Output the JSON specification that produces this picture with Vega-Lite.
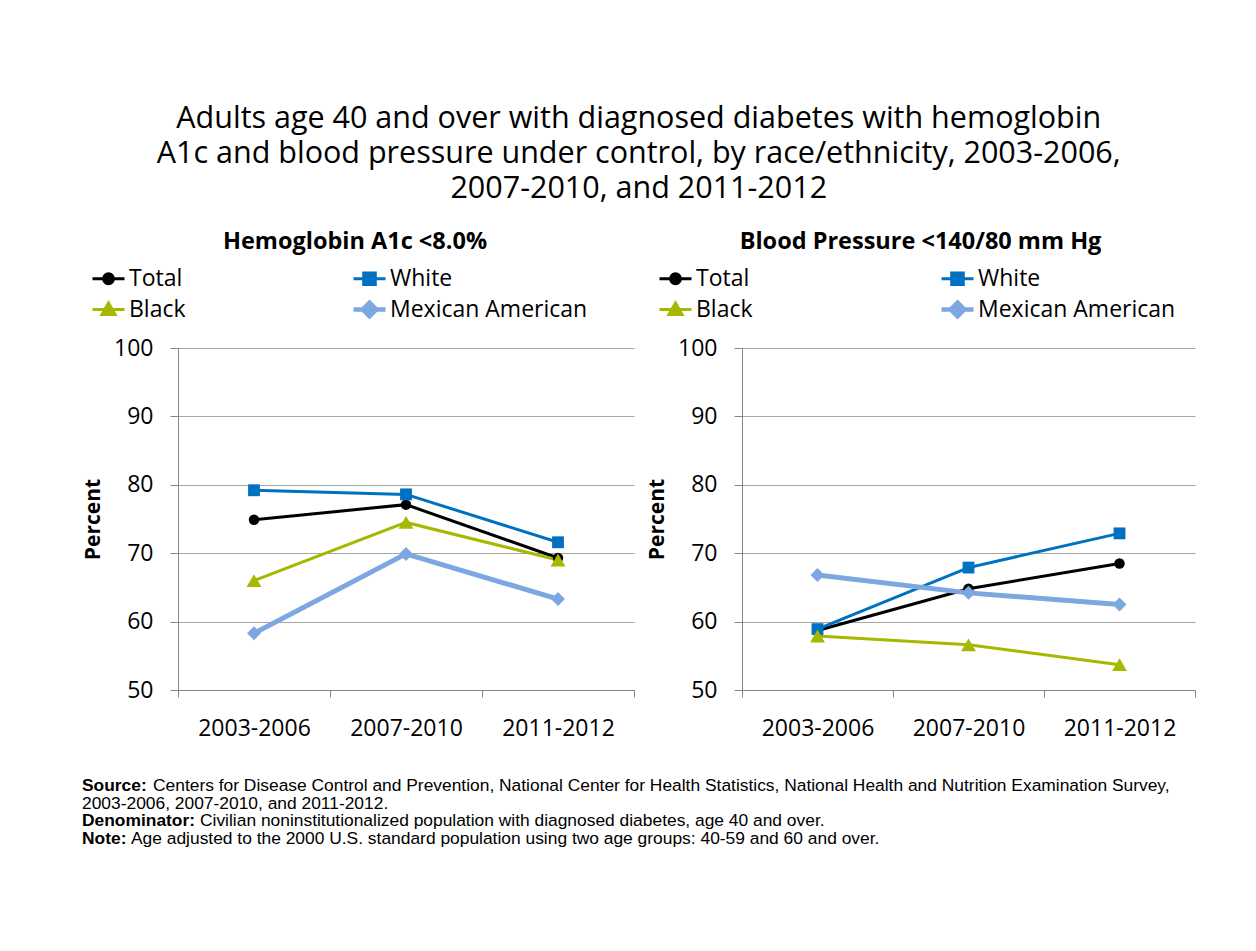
{
  "$schema": "https://vega.github.io/schema/vega-lite/v6.json",
  "background": "white",
  "padding": {"left": 82, "top": 104, "right": 5, "bottom": 5},
  "title": {
    "text": ["Adults age 40 and over with diagnosed diabetes with hemoglobin", "A1c and blood pressure under control, by race/ethnicity, 2003-2006,", "2007-2010, and 2011-2012"],
    "font": "Open Sans", "fontSize": 30.5, "fontWeight": "normal", "lineHeight": 35, "anchor": "middle", "offset": 25, "color": "black"
  },
  "datasets": {
    "a1c": [
      {"group": "Total", "period": "2003-2006", "percent": 74.9},
      {"group": "Total", "period": "2007-2010", "percent": 77.1},
      {"group": "Total", "period": "2011-2012", "percent": 69.3},
      {"group": "White", "period": "2003-2006", "percent": 79.2},
      {"group": "White", "period": "2007-2010", "percent": 78.6},
      {"group": "White", "period": "2011-2012", "percent": 71.6},
      {"group": "Black", "period": "2003-2006", "percent": 66.0},
      {"group": "Black", "period": "2007-2010", "percent": 74.5},
      {"group": "Black", "period": "2011-2012", "percent": 69.0},
      {"group": "Mexican American", "period": "2003-2006", "percent": 58.3},
      {"group": "Mexican American", "period": "2007-2010", "percent": 69.9},
      {"group": "Mexican American", "period": "2011-2012", "percent": 63.3}
    ],
    "bp": [
      {"group": "Total", "period": "2003-2006", "percent": 58.7},
      {"group": "Total", "period": "2007-2010", "percent": 64.8},
      {"group": "Total", "period": "2011-2012", "percent": 68.5},
      {"group": "White", "period": "2003-2006", "percent": 58.9},
      {"group": "White", "period": "2007-2010", "percent": 67.9},
      {"group": "White", "period": "2011-2012", "percent": 72.9},
      {"group": "Black", "period": "2003-2006", "percent": 57.9},
      {"group": "Black", "period": "2007-2010", "percent": 56.6},
      {"group": "Black", "period": "2011-2012", "percent": 53.7},
      {"group": "Mexican American", "period": "2003-2006", "percent": 66.8},
      {"group": "Mexican American", "period": "2007-2010", "percent": 64.2},
      {"group": "Mexican American", "period": "2011-2012", "percent": 62.5}
    ],
    "notes": [
      {"line": 1, "label": "Source:", "body": "Centers for Disease Control and Prevention, National Center for Health Statistics, National Health and Nutrition Examination Survey,"},
      {"line": 2, "label": "", "body": "2003-2006, 2007-2010, and 2011-2012."},
      {"line": 3, "label": "Denominator:", "body": "Civilian noninstitutionalized population with diagnosed diabetes, age 40 and over."},
      {"line": 4, "label": "Note:", "body": "Age adjusted to the 2000 U.S. standard population using two age groups: 40-59 and 60 and over."}
    ]
  },
  "config": {
    "font": "Open Sans",
    "view": {"stroke": null},
    "axis": {
      "labelFont": "Open Sans", "labelFontSize": 23, "labelColor": "black",
      "domainColor": "#868686", "tickColor": "#868686", "gridColor": "#A6A6A6",
      "titleFont": "Open Sans", "titleFontSize": 21, "titleFontWeight": "bold", "titleColor": "black"
    },
    "legend": {
      "orient": "none", "columns": 2, "direction": "horizontal", "rowPadding": 2,
      "symbolSize": 400, "labelFont": "Open Sans", "labelFontSize": 23, "labelColor": "black",
      "labelOffset": 9, "labelLimit": 400, "title": null
    }
  },
  "spacing": 36,
  "vconcat": [
    {
      "spacing": 11,
      "resolve": {"scale": {"color": "independent"}, "legend": {"color": "independent"}},
      "hconcat": [
        {
          "width": 456, "height": 342,
          "title": {"text": "Hemoglobin A1c <8.0%", "fontSize": 23.5, "fontWeight": "bold", "font": "Open Sans", "anchor": "middle", "dx": -51, "offset": 14, "color": "black"},
          "data": {"name": "a1c"},
          "encoding": {
            "x": {"field": "period", "type": "nominal", "sort": ["2003-2006", "2007-2010", "2011-2012"],
              "scale": {"type": "band", "paddingInner": 0, "paddingOuter": 0},
              "axis": {"title": null, "labelAngle": 0, "tickBand": "extent", "tickSize": 7, "labelPadding": 20, "grid": false}},
            "y": {"field": "percent", "type": "quantitative", "scale": {"domain": [50, 100], "nice": false},
              "axis": {"title": "Percent", "values": [50, 60, 70, 80, 90, 100], "tickSize": 8, "labelPadding": 17, "titlePadding": 10, "grid": true}},
            "color": {"field": "group", "type": "nominal",
              "scale": {"domain": ["Total", "White", "Black", "Mexican American"], "range": ["#000000", "#0070C0", "#A6B800", "#7CA7E0"]},
              "legend": {"legendX": -81, "legendY": -81, "columnPadding": 158,
                "encode": {"symbols": {"update": {
                  "shape": {"signal": "datum.value === 'Total' ? 'M-1.6,0H1.6M-0.5,0a0.5,0.5 0 1,0 1,0a0.5,0.5 0 1,0 -1,0Z' : datum.value === 'White' ? 'M-1.6,0H1.6M-0.58,-0.58H0.58V0.58H-0.58Z' : datum.value === 'Black' ? 'M-1.6,0H1.6M0,-0.65L0.65,0.5H-0.65Z' : 'M-1.6,0H1.6M0,-0.68L0.68,0L0,0.68L-0.68,0Z'"},
                  "fill": {"signal": "datum.value === 'Total' ? '#000000' : datum.value === 'White' ? '#0070C0' : datum.value === 'Black' ? '#A6B800' : '#7CA7E0'"},
                  "stroke": {"signal": "datum.value === 'Total' ? '#000000' : datum.value === 'White' ? '#0070C0' : datum.value === 'Black' ? '#A6B800' : '#7CA7E0'"},
                  "strokeWidth": {"signal": "datum.value === 'Mexican American' ? 4.5 : 3"},
                  "opacity": {"value": 1}
                }}}}
            }
          },
          "layer": [
            {"transform": [{"filter": "datum.group !== 'Mexican American'"}], "mark": {"type": "line", "strokeWidth": 3}},
            {"transform": [{"filter": "datum.group === 'Mexican American'"}], "mark": {"type": "line", "strokeWidth": 5}},
            {"transform": [{"filter": "datum.group === 'Total'"}], "mark": {"type": "point", "shape": "circle", "filled": true, "size": 110, "opacity": 1}},
            {"transform": [{"filter": "datum.group === 'White'"}], "mark": {"type": "point", "shape": "square", "filled": true, "size": 140, "opacity": 1}},
            {"transform": [{"filter": "datum.group === 'Black'"}], "mark": {"type": "point", "shape": "triangle-up", "filled": true, "size": 220, "opacity": 1}},
            {"transform": [{"filter": "datum.group === 'Mexican American'"}], "mark": {"type": "point", "shape": "diamond", "filled": true, "size": 196, "opacity": 1}}
          ]
        },
        {
          "width": 453, "height": 342,
          "title": {"text": "Blood Pressure <140/80 mm Hg", "fontSize": 23.5, "fontWeight": "bold", "font": "Open Sans", "anchor": "middle", "dx": -48, "offset": 14, "color": "black"},
          "data": {"name": "bp"},
          "encoding": {
            "x": {"field": "period", "type": "nominal", "sort": ["2003-2006", "2007-2010", "2011-2012"],
              "scale": {"type": "band", "paddingInner": 0, "paddingOuter": 0},
              "axis": {"title": null, "labelAngle": 0, "tickBand": "extent", "tickSize": 7, "labelPadding": 20, "grid": false}},
            "y": {"field": "percent", "type": "quantitative", "scale": {"domain": [50, 100], "nice": false},
              "axis": {"title": "Percent", "values": [50, 60, 70, 80, 90, 100], "tickSize": 8, "labelPadding": 17, "titlePadding": 10, "grid": true}},
            "color": {"field": "group", "type": "nominal",
              "scale": {"domain": ["Total", "White", "Black", "Mexican American"], "range": ["#000000", "#0070C0", "#A6B800", "#7CA7E0"]},
              "legend": {"legendX": -78, "legendY": -81, "columnPadding": 179,
                "encode": {"symbols": {"update": {
                  "shape": {"signal": "datum.value === 'Total' ? 'M-1.6,0H1.6M-0.5,0a0.5,0.5 0 1,0 1,0a0.5,0.5 0 1,0 -1,0Z' : datum.value === 'White' ? 'M-1.6,0H1.6M-0.58,-0.58H0.58V0.58H-0.58Z' : datum.value === 'Black' ? 'M-1.6,0H1.6M0,-0.65L0.65,0.5H-0.65Z' : 'M-1.6,0H1.6M0,-0.68L0.68,0L0,0.68L-0.68,0Z'"},
                  "fill": {"signal": "datum.value === 'Total' ? '#000000' : datum.value === 'White' ? '#0070C0' : datum.value === 'Black' ? '#A6B800' : '#7CA7E0'"},
                  "stroke": {"signal": "datum.value === 'Total' ? '#000000' : datum.value === 'White' ? '#0070C0' : datum.value === 'Black' ? '#A6B800' : '#7CA7E0'"},
                  "strokeWidth": {"signal": "datum.value === 'Mexican American' ? 4.5 : 3"},
                  "opacity": {"value": 1}
                }}}}
            }
          },
          "layer": [
            {"transform": [{"filter": "datum.group !== 'Mexican American'"}], "mark": {"type": "line", "strokeWidth": 3}},
            {"transform": [{"filter": "datum.group === 'Mexican American'"}], "mark": {"type": "line", "strokeWidth": 5}},
            {"transform": [{"filter": "datum.group === 'Total'"}], "mark": {"type": "point", "shape": "circle", "filled": true, "size": 110, "opacity": 1}},
            {"transform": [{"filter": "datum.group === 'White'"}], "mark": {"type": "point", "shape": "square", "filled": true, "size": 140, "opacity": 1}},
            {"transform": [{"filter": "datum.group === 'Black'"}], "mark": {"type": "point", "shape": "triangle-up", "filled": true, "size": 220, "opacity": 1}},
            {"transform": [{"filter": "datum.group === 'Mexican American'"}], "mark": {"type": "point", "shape": "diamond", "filled": true, "size": 196, "opacity": 1}}
          ]
        }
      ]
    },
    {
      "width": 1013, "height": 71,
      "data": {"name": "notes"},
      "encoding": {"y": {"field": "line", "type": "ordinal", "axis": null, "scale": {"paddingInner": 0, "paddingOuter": 0}}},
      "layer": [
        {"mark": {"type": "text", "align": "left", "baseline": "middle", "font": "Liberation Sans", "fontSize": 17.4, "fontWeight": "bold", "color": "black", "dx": -96},
          "encoding": {"x": {"value": 0}, "text": {"field": "label"}}},
        {"transform": [{"filter": "datum.line == 1"}],
          "mark": {"type": "text", "align": "left", "baseline": "middle", "font": "Liberation Sans", "fontSize": 17.4, "color": "black", "dx": -25},
          "encoding": {"x": {"value": 0}, "text": {"field": "body"}}},
        {"transform": [{"filter": "datum.line == 2"}],
          "mark": {"type": "text", "align": "left", "baseline": "middle", "font": "Liberation Sans", "fontSize": 17.4, "color": "black", "dx": -96},
          "encoding": {"x": {"value": 0}, "text": {"field": "body"}}},
        {"transform": [{"filter": "datum.line == 3"}],
          "mark": {"type": "text", "align": "left", "baseline": "middle", "font": "Liberation Sans", "fontSize": 17.4, "color": "black", "dx": 22},
          "encoding": {"x": {"value": 0}, "text": {"field": "body"}}},
        {"transform": [{"filter": "datum.line == 4"}],
          "mark": {"type": "text", "align": "left", "baseline": "middle", "font": "Liberation Sans", "fontSize": 17.4, "color": "black", "dx": -47},
          "encoding": {"x": {"value": 0}, "text": {"field": "body"}}}
      ]
    }
  ]
}
